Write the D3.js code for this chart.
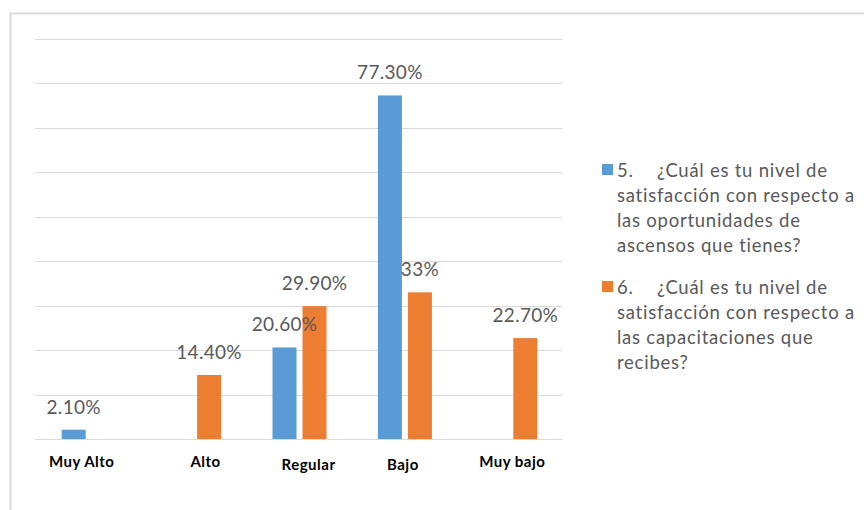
<!DOCTYPE html>
<html>
<head>
<meta charset="utf-8">
<script src="https://cdn.jsdelivr.net/npm/d3@7/dist/d3.min.js"></script>
<style>
  html, body { margin: 0; padding: 0; background: #ffffff; }
  svg { display: block; }
</style>
</head>
<body>
<svg id="chart" width="864" height="510"></svg>
<script>
// Survey results: satisfaction levels for two questions (percent of respondents)
const categories = ["Muy Alto", "Alto", "Regular", "Bajo", "Muy bajo"];
const seriesKeys = ["q5", "q6"];
const q5Values = [2.1, null, 20.6, 77.3, null];   // oportunidades de ascensos
const q6Values = [null, 14.4, 29.9, 33.0, 22.7];  // capacitaciones
const q5Labels = ["2.10%", null, "20.60%", "77.30%", null];
const q6Labels = [null, "14.40%", "29.90%", "33%", "22.70%"];
const q5Legend = ["5.", "¿Cuál es tu nivel de", "satisfacción con respecto a", "las oportunidades de", "ascensos que tienes?"];
const q6Legend = ["6.", "¿Cuál es tu nivel de", "satisfacción con respecto a", "las capacitaciones que", "recibes?"];
const gridTicks = [0, 10, 20, 30, 40, 50, 60, 70, 80, 90];

const colors = { q5: "#5B9BD5", q6: "#ED7D31" };
const textGray = "#595959";
const gridGray = "#D9D9D9";

const svg = d3.select("#chart");

// Outer chart frame (open on the right and bottom edges of the page)
svg.append("rect")
  .attr("x", 10.5).attr("y", 13.5)
  .attr("width", 1000).attr("height", 1000)
  .attr("fill", "none")
  .attr("stroke", gridGray)
  .attr("stroke-width", 2);

const plot = { left: 35, right: 562, top: 39, bottom: 439 };

const x0 = d3.scaleBand()
  .domain(categories)
  .range([plot.left, plot.right])
  .paddingInner(0).paddingOuter(0);

const bw = x0.bandwidth();
const x1 = d3.scaleBand()
  .domain(seriesKeys)
  .range([bw / 2 - 26, bw / 2 + 28])
  .paddingInner(0.2).paddingOuter(0);

const y = d3.scaleLinear()
  .domain([0, 90])
  .range([plot.bottom, plot.top]);

// Horizontal gridlines
svg.append("g")
  .selectAll("line")
  .data(gridTicks)
  .join("line")
  .attr("x1", plot.left).attr("x2", plot.right)
  .attr("y1", d => Math.round(y(d)) + 0.5)
  .attr("y2", d => Math.round(y(d)) + 0.5)
  .attr("stroke", gridGray)
  .attr("stroke-width", 1.2);

// Flatten series into bar records
const rows = [];
categories.forEach((c, i) => {
  rows.push({ cat: c, key: "q5", value: q5Values[i], label: q5Labels[i] });
  rows.push({ cat: c, key: "q6", value: q6Values[i], label: q6Labels[i] });
});
const bars = rows.filter(d => d.value != null);

svg.append("g")
  .selectAll("rect")
  .data(bars)
  .join("rect")
  .attr("x", d => x0(d.cat) + x1(d.key))
  .attr("y", d => y(d.value))
  .attr("width", x1.bandwidth())
  .attr("height", d => y(0) - y(d.value))
  .attr("fill", d => colors[d.key]);

// Value labels above each bar
svg.append("g")
  .selectAll("text")
  .data(bars)
  .join("text")
  .attr("x", d => x0(d.cat) + x1(d.key) + x1.bandwidth() / 2)
  .attr("y", d => y(d.value) - 16)
  .attr("text-anchor", "middle")
  .attr("font-family", "Lato, 'Open Sans', sans-serif")
  .attr("font-size", 19)
  .attr("letter-spacing", 0.3)
  .attr("fill", textGray)
  .text(d => d.label);

// Category labels (individually placed text boxes under the axis)
const catNudgeX = [-7, 11.5, 9, -2, 2];
const catNudgeY = [0, 0, 3, 3, 0];
svg.append("g")
  .selectAll("text")
  .data(categories)
  .join("text")
  .attr("x", (d, i) => x0(d) + bw / 2 + 1 + catNudgeX[i])
  .attr("y", (d, i) => 467 + catNudgeY[i])
  .attr("text-anchor", "middle")
  .attr("font-family", "Lato, 'Open Sans', sans-serif")
  .attr("font-weight", "bold")
  .attr("font-size", 15)
  .attr("letter-spacing", 0.5)
  .attr("fill", "#000000")
  .text(d => d);

// Legend
const legendItems = [
  { key: "q5", lines: q5Legend, top: 177 },
  { key: "q6", lines: q6Legend, top: 294 }
];
const lineH = 25;
const legend = svg.append("g")
  .attr("font-family", "Lato, 'Open Sans', sans-serif")
  .attr("font-size", 18.5)
  .attr("letter-spacing", 0.75)
  .attr("fill", textGray);

legendItems.forEach(item => {
  legend.append("rect")
    .attr("x", 602).attr("y", item.top - 13)
    .attr("width", 11).attr("height", 11)
    .attr("fill", colors[item.key]);
  legend.append("text")
    .attr("x", 617).attr("y", item.top)
    .text(item.lines[0]);
  legend.append("text")
    .attr("x", 657).attr("y", item.top)
    .text(item.lines[1]);
  item.lines.slice(2).forEach((ln, j) => {
    legend.append("text")
      .attr("x", 617).attr("y", item.top + (j + 1) * lineH)
      .text(ln);
  });
});
</script>
</body>
</html>
